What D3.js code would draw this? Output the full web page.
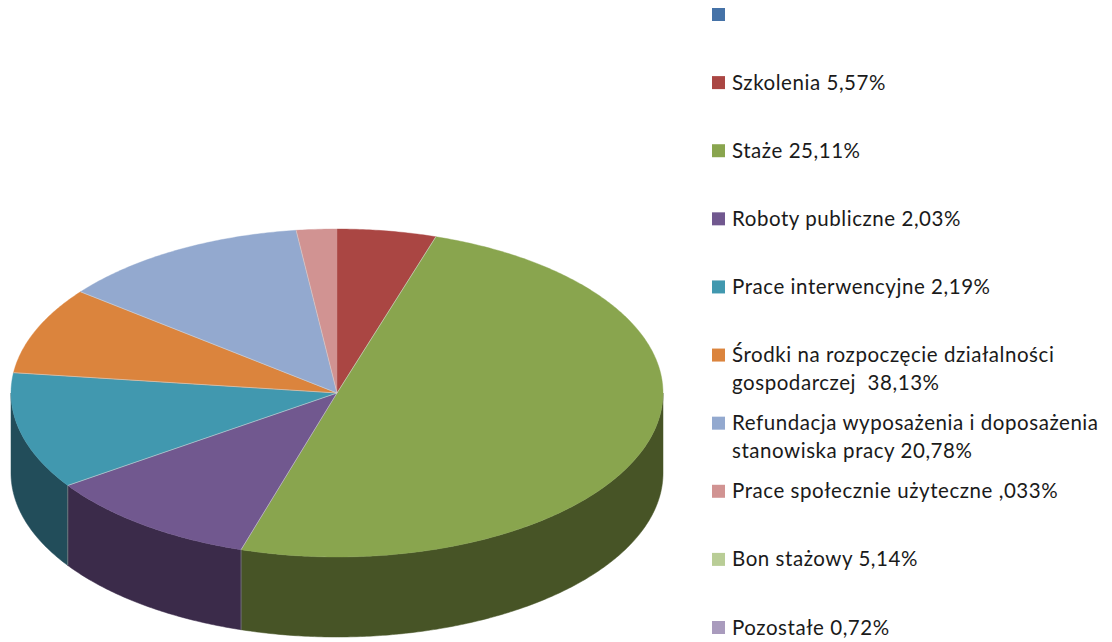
<!DOCTYPE html>
<html>
<head>
<meta charset="utf-8">
<script src="https://cdn.jsdelivr.net/npm/d3@7"></script>
<style>
  html, body { margin: 0; padding: 0; background: #fff; }
  svg { display: block; }
  .legend-text { font-family: Lato, "Open Sans", sans-serif; font-size: 20.5px; letter-spacing: 0.55px; fill: #1a1a1a; white-space: pre; }
</style>
</head>
<body>
<div id="chart"></div>
<script>
/* 3D-look pie with a legend on the right. Plotted shares are read from the
   slice angles, they do not follow the numbers printed in the legend. */
const legendLines = [
  [""],
  ["Szkolenia 5,57%"],
  ["Staże 25,11%"],
  ["Roboty publiczne 2,03%"],
  ["Prace interwencyjne 2,19%"],
  ["Środki na rozpoczęcie działalności", "gospodarczej  38,13%"],
  ["Refundacja wyposażenia i doposażenia", "stanowiska pracy 20,78%"],
  ["Prace społecznie użyteczne ,033%"],
  ["Bon stażowy 5,14%"],
  ["Pozostałe 0,72%"]
];
const shares = [0, 4.9, 49.8, 10.7, 11.5, 8.6, 12.4, 2.0, 0, 0];
const topColours = ["#4572A7", "#AA4643", "#89A54E", "#71588F", "#4198AF", "#DB843D", "#93A9CF", "#D19392", "#B9CD96", "#A99BBD"];
const wallColours = ["#2a4464", "#662a28", "#475426", "#3b2b4a", "#224d5a", "#83501f", "#586579", "#7d5857", "#6f7b5a", "#655d71"];

const fullW = 1112, fullH = 642;
const depth = 80;

const svg = d3.select("#chart")
  .append("svg")
  .attr("width", fullW)
  .attr("height", fullH);

// unit circle -> squashed ellipse
const x = d3.scaleLinear().domain([-1, 1]).range([11, 663]);
const y = d3.scaleLinear().domain([-1, 1]).range([229, 557]);

const pie = d3.pie().sort(null).value(d => d);
const slices = pie(shares).map((d, i) => ({ ...d, i }));

const line = d3.line().x(d => d[0]).y(d => d[1]);

function arcPoints(a0, a1, dy) {
  const n = Math.max(2, Math.ceil((a1 - a0) / 0.01));
  return d3.range(n + 1).map(k => {
    const a = a0 + (a1 - a0) * k / n;
    return [x(Math.sin(a)), y(-Math.cos(a)) + dy];
  });
}

// side walls, only the part of the rim facing the viewer
const wallsG = svg.append("g");
slices.forEach(d => {
  const a0 = Math.max(d.startAngle, Math.PI / 2);
  const a1 = Math.min(d.endAngle, Math.PI * 1.5);
  if (a1 <= a0 || d.value === 0) return;
  const pts = arcPoints(a0, a1, 0).concat(arcPoints(a0, a1, depth).reverse());
  wallsG.append("path")
    .attr("d", line(pts) + "Z")
    .attr("fill", wallColours[d.i])
    .attr("stroke", wallColours[d.i])
    .attr("stroke-width", 0.5);
});

// seams between the walls
slices.filter(d => d.value > 0 && d.startAngle > Math.PI / 2 && d.startAngle < Math.PI * 1.5).forEach(d => {
  const px = x(Math.sin(d.startAngle)), py = y(-Math.cos(d.startAngle));
  wallsG.append("line")
    .attr("x1", px).attr("x2", px)
    .attr("y1", py).attr("y2", py + depth)
    .attr("stroke", "#8a8a8a")
    .attr("stroke-width", 0.7);
});

// top face
const topG = svg.append("g");
slices.filter(d => d.value > 0).forEach(d => {
  const pts = [[x(0), y(0)]].concat(arcPoints(d.startAngle, d.endAngle, 0));
  topG.append("path")
    .attr("d", line(pts) + "Z")
    .attr("fill", topColours[d.i])
    .attr("stroke", topColours[d.i])
    .attr("stroke-width", 0.4);
});
slices.filter(d => d.value > 0 && d.i !== 1).forEach(d => {
  topG.append("line")
    .attr("x1", x(0)).attr("y1", y(0))
    .attr("x2", x(Math.sin(d.startAngle))).attr("y2", y(-Math.cos(d.startAngle)))
    .attr("stroke", "#d8d8d8")
    .attr("stroke-opacity", 0.75)
    .attr("stroke-width", 0.8);
});

// legend
const legendY = d3.scalePoint()
  .domain(d3.range(legendLines.length))
  .range([14.5, 627.5]);

const legendG = svg.append("g");
legendLines.forEach((lines, i) => {
  const g = legendG.append("g").attr("transform", `translate(712,${legendY(i)})`);
  g.append("rect")
    .attr("x", 0).attr("y", -6.5)
    .attr("width", 13).attr("height", 13)
    .attr("fill", topColours[i]);
  g.selectAll("text").data(lines).join("text")
    .attr("class", "legend-text")
    .attr("x", 20)
    .attr("y", (d, k) => 7 + k * 28)
    .text(d => d);
});
</script>
</body>
</html>
